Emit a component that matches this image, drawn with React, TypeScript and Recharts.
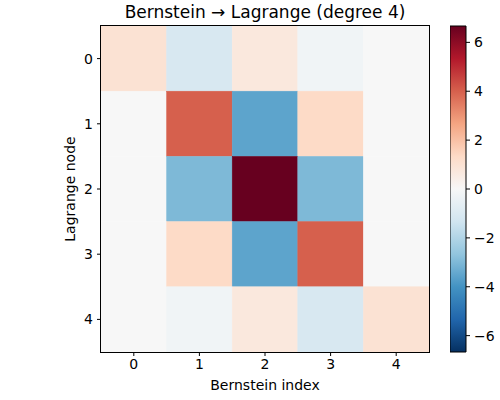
import React from 'react';
import {
  ScatterChart,
  Scatter,
  XAxis,
  YAxis,
  ComposedChart,
  ReferenceArea,
} from 'recharts';

// Bernstein index (columns) and Lagrange node (rows)
const bernsteinIdx = [0, 1, 2, 3, 4];
const lagrangeNodes = [0, 1, 2, 3, 4];

// matrix rows, one per Lagrange node
const node0 = [1.0, -1.08, 0.72, -0.25, 0.0];
const node1 = [0.0, 4.0, -3.56, 1.33, 0.0];
const node2 = [0.0, -3.0, 6.67, -3.0, 0.0];
const node3 = [0.0, 1.33, -3.56, 4.0, 0.0];
const node4 = [0.0, -0.25, 0.72, -1.08, 1.0];
const rows = [node0, node1, node2, node3, node4];

const vmax = 6.67;
const cbarTicks = [-6, -4, -2, 0, 2, 4, 6];

// RdBu_r stops, low -> high
const RDBU_R = [
  '#053061', '#2166ac', '#4393c3', '#92c5de', '#d1e5f0', '#f7f7f7',
  '#fddbc7', '#f4a582', '#d6604d', '#b2182b', '#67001f',
];

const hexToRgb = (h: string) => [
  parseInt(h.slice(1, 3), 16),
  parseInt(h.slice(3, 5), 16),
  parseInt(h.slice(5, 7), 16),
];

const colorFor = (v: number) => {
  let t = (v + vmax) / (2 * vmax);
  t = Math.max(0, Math.min(1, t));
  const pos = t * (RDBU_R.length - 1);
  const i = Math.min(Math.floor(pos), RDBU_R.length - 2);
  const f = pos - i;
  const a = hexToRgb(RDBU_R[i]);
  const b = hexToRgb(RDBU_R[i + 1]);
  const c = a.map((x, k) => Math.round(x + (b[k] - x) * f));
  return `rgb(${c[0]},${c[1]},${c[2]})`;
};

const cells = lagrangeNodes.flatMap((r) =>
  bernsteinIdx.map((c) => ({ x: c, y: r, v: rows[r][c] }))
);

const FONT = '"DejaVu Sans", sans-serif';
const W = 500;
const H = 400;
const plot = { left: 101, top: 26, right: 429, bottom: 352 };
const cellW = (plot.right - plot.left) / bernsteinIdx.length;
const cellH = (plot.bottom - plot.top) / lagrangeNodes.length;

const CellShape = (props: any) => {
  const { cx, cy, payload } = props;
  const fill = colorFor(payload.v);
  return (
    <rect
      x={cx - cellW / 2}
      y={cy - cellH / 2}
      width={cellW}
      height={cellH}
      fill={fill}
      stroke={fill}
      strokeWidth={0.5}
    />
  );
};

const tickStyle = { fill: '#000', fontSize: 14, fontFamily: FONT };
const minus = (v: number) => (v < 0 ? `\u2212${Math.abs(v)}` : `${v}`);

export default function App() {
  return (
    <div style={{ position: 'absolute', left: 0, top: 0, width: W, height: H, background: '#fff', fontFamily: FONT }}>
      <div
        style={{
          position: 'absolute', left: (plot.left + plot.right) / 2, top: 12,
          transform: 'translate(-50%, -50%)', fontSize: 17, whiteSpace: 'nowrap', color: '#000',
        }}
      >
        Bernstein → Lagrange (degree 4)
      </div>

      <div style={{ position: 'absolute', left: 0, top: 0 }}>
        <ScatterChart
          width={W}
          height={H}
          margin={{ top: plot.top, left: plot.left - 40, right: W - plot.right, bottom: H - plot.bottom - 30 }}
        >
          <XAxis
            type="number"
            dataKey="x"
            domain={[-0.5, 4.5]}
            ticks={bernsteinIdx}
            allowDataOverflow
            height={30}
            tick={{ ...tickStyle, dy: 1 }}
            tickSize={4}
            tickLine={{ stroke: '#000' }}
            axisLine={false}
          />
          <YAxis
            type="number"
            dataKey="y"
            domain={[-0.5, 4.5]}
            ticks={lagrangeNodes}
            reversed
            allowDataOverflow
            width={40}
            tick={{ ...tickStyle, dx: -2 }}
            tickSize={4}
            tickLine={{ stroke: '#000' }}
            axisLine={false}
          />
          <Scatter data={cells} shape={<CellShape />} isAnimationActive={false} />
        </ScatterChart>
      </div>

      {/* axes frame on top of the cells */}
      <div
        style={{
          position: 'absolute', left: plot.left - 1, top: plot.top - 1,
          width: plot.right - plot.left + 2, height: plot.bottom - plot.top + 2,
          border: '1px solid #000', boxSizing: 'border-box', pointerEvents: 'none',
        }}
      />

      <div style={{ position: 'absolute', left: 450, top: 0 }}>
        <ComposedChart
          width={50}
          height={H}
          data={[{ x: 0, v: 0 }]}
          margin={{ top: plot.top, left: 0, right: 0, bottom: H - plot.bottom }}
        >
          <defs>
            <linearGradient id="cbar" x1="0" y1="1" x2="0" y2="0">
              {RDBU_R.map((c, i) => (
                <stop key={c} offset={`${(i / (RDBU_R.length - 1)) * 100}%`} stopColor={c} />
              ))}
            </linearGradient>
          </defs>
          <XAxis type="number" dataKey="x" domain={[0, 1]} hide />
          <YAxis
            type="number"
            orientation="right"
            domain={[-vmax, vmax]}
            ticks={cbarTicks}
            allowDataOverflow
            width={34}
            tick={{ ...tickStyle, dx: 2 }}
            tickFormatter={minus}
            tickSize={4}
            tickLine={{ stroke: '#000' }}
            axisLine={false}
          />
          <ReferenceArea x1={0} x2={1} y1={-vmax} y2={vmax} fill="url(#cbar)" fillOpacity={1} stroke="#000" strokeWidth={1} />
        </ComposedChart>
      </div>

      <div
        style={{
          position: 'absolute', left: (plot.left + plot.right) / 2, top: 385,
          transform: 'translate(-50%, -50%)', fontSize: 14, whiteSpace: 'nowrap', color: '#000',
        }}
      >
        Bernstein index
      </div>
      <div
        style={{
          position: 'absolute', left: 70, top: (plot.top + plot.bottom) / 2,
          transform: 'translate(-50%, -50%) rotate(-90deg)', fontSize: 14, whiteSpace: 'nowrap', color: '#000',
        }}
      >
        Lagrange node
      </div>
    </div>
  );
}
